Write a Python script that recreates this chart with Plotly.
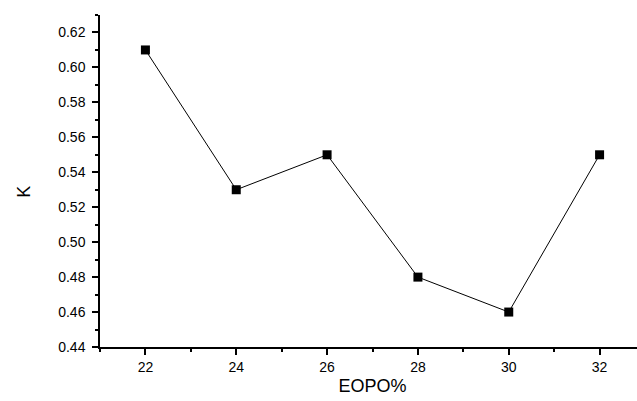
import plotly.graph_objects as go

eopo = [22, 24, 26, 28, 30, 32]
k_values = [0.61, 0.53, 0.55, 0.48, 0.46, 0.55]

FONT = "Liberation Sans, Arial, Helvetica"

fig = go.Figure()
fig.add_trace(go.Scatter(
    x=eopo, y=k_values, mode="lines+markers",
    line=dict(color="black", width=1),
    marker=dict(symbol="square", size=9, color="black"),
    showlegend=False, hoverinfo="skip",
))

axis_common = dict(
    showline=True, linecolor="black", linewidth=1.5,
    ticks="outside", ticklen=6, tickwidth=1.5, tickcolor="black",
    showgrid=False, zeroline=False, mirror=False,
    tickfont=dict(family=FONT, size=14, color="black"),
)

fig.update_layout(
    width=645, height=401,
    margin=dict(l=100, r=0, t=15, b=54),
    plot_bgcolor="white", paper_bgcolor="white",
    xaxis=dict(range=[21, 33], tick0=22, dtick=2,
               minor=dict(ticks="outside", ticklen=3, dtick=1, tick0=21, tickcolor="black", tickwidth=1.5),
               title=dict(text="EOPO%", font=dict(family=FONT, size=18, color="black"), standoff=6),
               **axis_common),
    yaxis=dict(range=[0.44, 0.63], tick0=0.44, dtick=0.02, tickformat=".2f",
               ticklabelstandoff=4,
               minor=dict(ticks="outside", ticklen=3, dtick=0.01, tick0=0.44, tickcolor="black", tickwidth=1.5),
               **axis_common),
    annotations=[dict(text="K", xref="paper", yref="paper", x=-100/545, y=1 - (191.7 - 15) / 332,
                      xanchor="left", yanchor="middle", xshift=12, textangle=-90, showarrow=False,
                      font=dict(family=FONT, size=18, color="black"))],
)

fig.write_html("out.html", config={"displayModeBar": False},
               post_script="document.body.style.margin='0';document.body.style.overflow='hidden';")
